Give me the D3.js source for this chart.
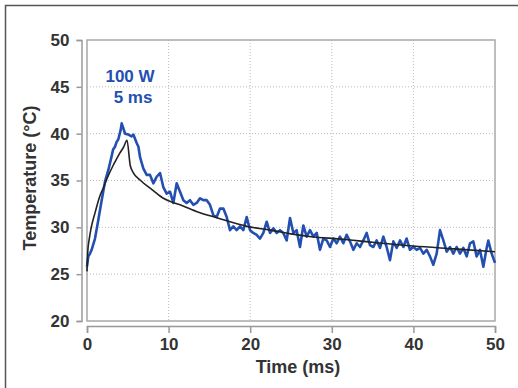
<!DOCTYPE html>
<html>
<head>
<meta charset="utf-8">
<script src="https://cdn.jsdelivr.net/npm/d3@7"></script>
<style>
  html, body { margin: 0; padding: 0; background: #fff; }
  svg { display: block; }
  text { font-family: "Liberation Sans", Arial, Helvetica, sans-serif; font-weight: bold; }
</style>
</head>
<body>
<svg id="chart" width="518" height="388"></svg>
<script>
// Measured temperature trace (ms, °C)
const measuredTime = [
  0, 0.16, 0.37, 0.57, 0.98, 1.39, 1.80, 2.21, 2.61, 3.02, 3.20, 3.43, 3.62, 3.84, 4.13, 4.25, 4.37,
  4.66, 5.07, 5.47, 5.68, 6.09, 6.30, 6.50, 6.90, 7.31, 7.72, 8.13, 8.54, 8.95, 9.35, 9.76,
  10.17, 10.58, 10.99, 11.40, 11.81, 12.21, 12.62, 13.03, 13.44, 13.85, 14.26, 14.67, 15.07,
  15.48, 15.89, 16.30, 16.71, 17.12, 17.52, 17.93, 18.34, 18.75, 19.16, 19.57, 19.98, 20.38,
  20.79, 21.20, 21.61, 22.02, 22.43, 22.84, 23.24, 23.65, 24.06, 24.47, 24.88, 25.29, 25.69,
  26.10, 26.51, 26.92, 27.33, 27.74, 28.15, 28.55, 28.96, 29.37, 29.78, 30.19, 30.60, 31.00,
  31.41, 31.82, 32.23, 32.64, 33.05, 33.46, 33.86, 34.27, 34.68, 35.09, 35.50, 35.91, 36.32,
  36.72, 37.13, 37.54, 37.95, 38.36, 38.77, 39.17, 39.58, 39.99, 40.40, 40.81, 41.22, 41.63,
  42.03, 42.44, 42.85, 43.26, 43.67, 44.08, 44.49, 44.89, 45.30, 45.71, 46.12, 46.53, 46.94,
  47.34, 47.75, 48.16, 48.57, 48.98, 49.18, 49.59, 50.0
];
const measuredTemp = [
  25.8, 26.9, 27.2, 27.6, 28.8, 30.8, 32.9, 34.9, 36.1, 37.6, 38.3, 38.6, 39.1, 39.4, 40.4, 41.1, 40.8,
  40.0, 39.9, 39.7, 39.9, 39.0, 38.6, 37.5, 36.3, 35.6, 35.6, 34.7, 35.4, 35.8, 34.3, 33.6,
  33.8, 32.6, 34.7, 33.8, 32.9, 32.6, 32.9, 32.4, 32.6, 33.1, 32.9, 32.9, 32.4,
  31.3, 31.1, 32.0, 32.0, 31.1, 29.7, 30.1, 29.7, 30.1, 29.7, 31.1, 29.7, 29.4,
  29.2, 28.8, 29.4, 30.6, 29.4, 29.9, 29.4, 29.7, 29.4, 28.6, 31.0, 29.4, 29.7,
  27.9, 30.2, 29.0, 29.7, 29.0, 29.4, 27.6, 28.8, 28.6, 27.9, 28.8, 28.3, 29.0,
  28.3, 29.2, 28.5, 27.6, 28.3, 27.9, 28.6, 29.4, 28.1, 27.9, 28.6, 27.8, 29.0,
  27.9, 26.5, 28.5, 27.8, 28.6, 27.9, 28.8, 27.6, 27.9, 27.6, 27.8, 27.2, 27.6,
  26.9, 26.0, 27.2, 29.7, 28.6, 27.4, 27.9, 27.2, 27.9, 27.2, 27.8, 26.9, 28.3,
  28.5, 26.9, 27.6, 25.8, 27.8, 28.6, 27.2, 26.2
];

// Model curve (ms, °C)
const modelTime = [0, 0.1, 0.25, 0.5, 1, 1.6, 2, 2.5, 3.2, 3.5, 4, 4.5, 4.9, 5.3, 5.7, 6.5, 8, 9.35,
  11.4, 13.4, 16, 19.6, 22.5, 25, 27.5, 31, 35, 40, 45, 50];
const modelTemp = [25.3, 27.5, 28.6, 29.9, 31.6, 33.4, 34.2, 35.3, 36.6, 37.1, 37.9, 38.6, 39.3, 36.6, 35.8, 35.05, 34.0, 33.1,
  32.4, 31.7, 31.0, 30.1, 29.7, 29.3, 29.0, 28.75, 28.4, 28.0, 27.7, 27.4];

const xTicks = [0, 10, 20, 30, 40, 50];
const yTicks = [20, 25, 30, 35, 40, 45, 50];
const annotationLines = ["100 W", "5 ms"];

const svg = d3.select("#chart");
const plotLeft = 87, plotRight = 495, plotTop = 40, plotBottom = 321;

const x = d3.scaleLinear().domain([0, 50]).range([plotLeft, plotRight]);
const y = d3.scaleLinear().domain([20, 50]).range([plotBottom, plotTop]);

// outer frame
svg.append("rect")
  .attr("x", 5.5).attr("y", 5.5).attr("width", 600).attr("height", 600)
  .attr("fill", "none").attr("stroke", "#555").attr("stroke-width", 1.5);

// grid
const grid = svg.append("g").attr("stroke", "#bdbdbd").attr("stroke-width", 1).attr("stroke-dasharray", "1,2");
grid.selectAll("line.h").data(yTicks.filter(d => d > 20 && d < 50)).join("line")
  .attr("class", "h")
  .attr("x1", plotLeft).attr("x2", plotRight).attr("y1", d => y(d)).attr("y2", d => y(d));
grid.selectAll("line.v").data(xTicks.filter(d => d > 0 && d < 50)).join("line")
  .attr("class", "v")
  .attr("y1", plotTop).attr("y2", plotBottom).attr("x1", d => x(d)).attr("x2", d => x(d));

// plot frame
svg.append("rect")
  .attr("x", plotLeft).attr("y", plotTop).attr("width", plotRight - plotLeft).attr("height", plotBottom - plotTop)
  .attr("fill", "none").attr("stroke", "#a8a8a8").attr("stroke-width", 1.5);

// offset axes
const yAxis = d3.axisLeft(y).tickValues(yTicks).tickSize(5).tickPadding(7);
const gy = svg.append("g").attr("transform", "translate(81.5,0)").call(yAxis);
const xAxis = d3.axisBottom(x).tickValues(xTicks).tickSize(7).tickPadding(5);
const gx = svg.append("g").attr("transform", "translate(0,326)").call(xAxis);
[gx, gy].forEach(g => {
  g.select(".domain").attr("stroke", "#999").attr("stroke-width", 1.5);
  g.selectAll(".tick line").attr("stroke", "#999").attr("stroke-width", 1.5);
  g.selectAll(".tick text").attr("fill", "#333").attr("font-size", 17)
    .attr("font-family", "'Liberation Sans', Arial, sans-serif").attr("font-weight", "bold");
});

// axis titles
svg.append("text").attr("x", 298).attr("y", 373).attr("text-anchor", "middle")
  .attr("fill", "#333").attr("font-size", 18).text("Time (ms)");
svg.append("text").attr("transform", "translate(36,178) rotate(-90)").attr("text-anchor", "middle")
  .attr("fill", "#333").attr("font-size", 18).text("Temperature (°C)");

// traces
const measured = measuredTime.map((t, i) => [t, measuredTemp[i]]);
const model = modelTime.map((t, i) => [t, modelTemp[i]]);
const line = d3.line().x(d => x(d[0])).y(d => y(d[1]));

svg.append("path").datum(measured).attr("d", line)
  .attr("fill", "none").attr("stroke", "#2350b0").attr("stroke-width", 2.6).attr("stroke-linejoin", "round");
svg.append("path").datum(model).attr("d", line.curve(d3.curveMonotoneX))
  .attr("fill", "none").attr("stroke", "#222").attr("stroke-width", 1.6);

// annotation
svg.append("text").attr("x", 130).attr("y", 82).attr("text-anchor", "middle")
  .attr("fill", "#2350b0").attr("font-size", 17).text(annotationLines[0]);
svg.append("text").attr("x", 133).attr("y", 103).attr("text-anchor", "middle")
  .attr("fill", "#2350b0").attr("font-size", 17).text(annotationLines[1]);
</script>
</body>
</html>
